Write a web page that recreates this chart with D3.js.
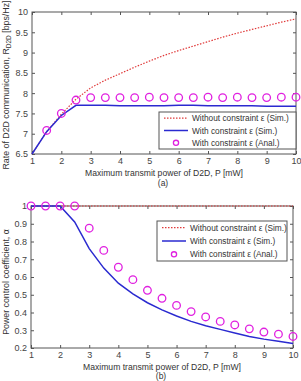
<!DOCTYPE html>
<html>
<head>
<meta charset="utf-8">
<script src="https://cdn.jsdelivr.net/npm/d3@7"></script>
<style>
  body { margin: 0; background: #fff; }
  svg { display: block; font-family: "Liberation Sans", Arial, sans-serif; }
  .tick text { fill: #444; font-size: 9px; }
</style>
</head>
<body>
<svg id="chart" width="301" height="381"></svg>
<script>
const svg = d3.select("#chart");

// shared x values
const powers = [1, 1.5, 2, 2.5, 3, 3.5, 4, 4.5, 5, 5.5, 6, 6.5, 7, 7.5, 8, 8.5, 9, 9.5, 10];
const xTicks = [1, 2, 3, 4, 5, 6, 7, 8, 9, 10];

// (a) rate
const rateNoConstraint = [6.5, 7.05, 7.48, 7.85, 8.13, 8.32, 8.48, 8.64, 8.79, 8.93, 9.05, 9.16, 9.27, 9.38, 9.48, 9.57, 9.66, 9.75, 9.83];
const rateConstraint = [6.5, 7.05, 7.45, 7.7, 7.7, 7.7, 7.69, 7.69, 7.69, 7.69, 7.7, 7.7, 7.69, 7.69, 7.69, 7.69, 7.68, 7.68, 7.68];
const rateAnalX = [1.5, 2, 2.5, 3, 3.5, 4, 4.5, 5, 5.5, 6, 6.5, 7, 7.5, 8, 8.5, 9, 9.5, 10];
const rateAnal = [7.08, 7.5, 7.83, 7.89, 7.89, 7.89, 7.89, 7.9, 7.89, 7.89, 7.89, 7.9, 7.89, 7.9, 7.89, 7.89, 7.9, 7.9];
const rateTicks = [6.5, 7, 7.5, 8, 8.5, 9, 9.5, 10];

// (b) power control coefficient
const alphaNoConstraint = powers.map(() => 1);
const alphaConstraint = [1, 1, 1, 0.91, 0.76, 0.65, 0.565, 0.505, 0.455, 0.415, 0.38, 0.35, 0.325, 0.305, 0.285, 0.265, 0.25, 0.238, 0.225];
const alphaAnal = [1, 1, 1, 1, 0.875, 0.75, 0.655, 0.585, 0.525, 0.48, 0.44, 0.405, 0.375, 0.35, 0.33, 0.308, 0.29, 0.278, 0.265];
const alphaTicks = [0.2, 0.3, 0.4, 0.5, 0.6, 0.7, 0.8, 0.9, 1];

const legendLabels = ["Without constraint \u03b5 (Sim.)", "With constraint \u03b5 (Sim.)", "With constraint \u03b5 (Anal.)"];

const colors = {
    red: "#e03a3a",
    blue: "#2a2ad0",
    magenta: "#e020e0",
    text: "#333"
};

function drawPanel(opt) {
    const g = svg.append("g");
    const x = d3.scaleLinear().domain([1, 10]).range([opt.left, opt.right]);
    const y = d3.scaleLinear().domain(opt.yDomain).range([opt.bottom, opt.top]);

    // axes, ticks pointing inward (matlab style)
    const tickLen = 3;
    g.append("g").attr("transform", `translate(0,${opt.bottom})`)
        .call(d3.axisBottom(x).tickValues(xTicks).tickSize(-tickLen).tickPadding(4).tickFormat(d3.format("d")));
    g.append("g").attr("transform", `translate(0,${opt.top})`)
        .call(d3.axisTop(x).tickValues(xTicks).tickSize(-tickLen).tickFormat(""));
    g.append("g").attr("transform", `translate(${opt.left},0)`)
        .call(d3.axisLeft(y).tickValues(opt.yTicks).tickSize(-tickLen).tickPadding(4).tickFormat(d => d));
    g.append("g").attr("transform", `translate(${opt.right},0)`)
        .call(d3.axisRight(y).tickValues(opt.yTicks).tickSize(-tickLen).tickFormat(""));
    g.selectAll(".domain").remove();
    g.selectAll(".tick line").attr("stroke", "#555");

    g.append("rect")
        .attr("x", opt.left).attr("y", opt.top)
        .attr("width", opt.right - opt.left).attr("height", opt.bottom - opt.top)
        .attr("fill", "none").attr("stroke", "#555").attr("stroke-width", 1);

    const line = d3.line().x(d => x(d[0])).y(d => y(d[1]));

    g.append("path")
        .datum(powers.map((p, i) => [p, opt.noConstraint[i]]))
        .attr("d", line).attr("fill", "none")
        .attr("stroke", colors.red).attr("stroke-width", 1.2).attr("stroke-dasharray", "1.5,1.5");

    g.append("path")
        .datum(powers.map((p, i) => [p, opt.constraint[i]]))
        .attr("d", line).attr("fill", "none")
        .attr("stroke", colors.blue).attr("stroke-width", 1.5);

    g.selectAll("circle.anal")
        .data(opt.analX.map((p, i) => [p, opt.anal[i]]))
        .enter().append("circle")
        .attr("cx", d => x(d[0])).attr("cy", d => y(d[1])).attr("r", 3.8)
        .attr("fill", "none").attr("stroke", colors.magenta).attr("stroke-width", 1.3);

    // x title
    g.append("text")
        .attr("x", (opt.left + opt.right) / 2).attr("y", opt.bottom + 22)
        .attr("text-anchor", "middle").attr("fill", colors.text).style("font-size", "8.6px")
        .text("Maximum transmit power of D2D, P [mW]");

    // panel label
    g.append("text")
        .attr("x", (opt.left + opt.right) / 2 - 1).attr("y", opt.labelY)
        .attr("text-anchor", "middle").attr("fill", colors.text).style("font-size", "8.5px")
        .text(opt.panel);

    // y title
    const yt = g.append("text")
        .attr("transform", `translate(9,${(opt.top + opt.bottom) / 2 + opt.yTitleShift}) rotate(-90)`)
        .attr("text-anchor", "middle").attr("fill", colors.text).style("font-size", "8.8px");
    opt.yTitle(yt);

    // legend
    const lg = g.append("g").attr("transform", `translate(${opt.legend.x},${opt.legend.y})`);
    lg.append("rect")
        .attr("width", opt.legend.w).attr("height", opt.legend.h)
        .attr("fill", "#fff").attr("stroke", "#555").attr("stroke-width", 1);
    const rowH = opt.legend.h / 3;
    legendLabels.forEach((label, i) => {
        const cy = rowH * (i + 0.5);
        if (i === 0) {
            lg.append("line").attr("x1", 5).attr("x2", 29).attr("y1", cy).attr("y2", cy)
                .attr("stroke", colors.red).attr("stroke-width", 1.2).attr("stroke-dasharray", "1.5,1.5");
        } else if (i === 1) {
            lg.append("line").attr("x1", 5).attr("x2", 29).attr("y1", cy).attr("y2", cy)
                .attr("stroke", colors.blue).attr("stroke-width", 1.5);
        } else {
            lg.append("circle").attr("cx", 17).attr("cy", cy).attr("r", 2.6)
                .attr("fill", "none").attr("stroke", colors.magenta).attr("stroke-width", 1.3);
        }
        lg.append("text").attr("x", 33).attr("y", cy + 3)
            .attr("fill", colors.text).style("font-size", "8.3px").text(label);
    });
}

drawPanel({
    left: 32, right: 296, top: 12, bottom: 154,
    yDomain: [6.5, 10], yTicks: rateTicks,
    noConstraint: rateNoConstraint, constraint: rateConstraint,
    analX: rateAnalX, anal: rateAnal,
    panel: "(a)", labelY: 186, yTitleShift: 2,
    yTitle: t => {
        t.append("tspan").text("Rate of D2D communication, R");
        t.append("tspan").attr("dy", 2).style("font-size", "6.5px").text("D2D");
        t.append("tspan").attr("dy", -2).text(" [bps/Hz]");
    },
    legend: { x: 159, y: 112, w: 137, h: 37 }
});

drawPanel({
    left: 31, right: 293, top: 206, bottom: 348,
    yDomain: [0.2, 1], yTicks: alphaTicks,
    noConstraint: alphaNoConstraint, constraint: alphaConstraint,
    analX: powers, anal: alphaAnal,
    panel: "(b)", labelY: 379, yTitleShift: 5,
    yTitle: t => t.text("Power control coefficient, \u03b1"),
    legend: { x: 157, y: 221, w: 130, h: 40 }
});
</script>
</body>
</html>
